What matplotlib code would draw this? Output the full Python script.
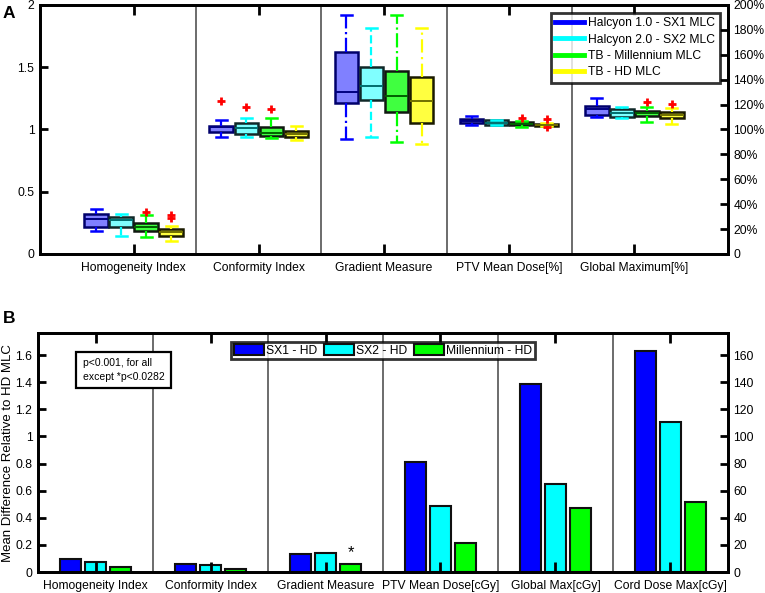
import matplotlib
matplotlib.use("Agg")
import matplotlib.pyplot as plt
from matplotlib.lines import Line2D
from matplotlib.patches import Patch
import numpy as np

plt.rcParams['font.family'] = ['Liberation Sans', 'DejaVu Sans']

# ---------------- Panel A data ----------------
categories_a = ["Homogeneity Index", "Conformity Index", "Gradient Measure",
                "PTV Mean Dose[%]", "Global Maximum[%]"]
series_a = ["Halcyon 1.0 - SX1 MLC", "Halcyon 2.0 - SX2 MLC",
            "TB - Millennium MLC", "TB - HD MLC"]

# per series: values for the 5 categories (PTV / Global as fraction of 100%)
whislo = [
    [0.185, 0.940, 0.921, 1.034, 1.098],
    [0.145, 0.940, 0.940, 1.035, 1.088],
    [0.134, 0.932, 0.900, 1.023, 1.060],
    [0.107, 0.916, 0.886, 1.025, 1.047],
]
q1 = [
    [0.220, 0.983, 1.215, 1.050, 1.120],
    [0.220, 0.966, 1.234, 1.039, 1.103],
    [0.187, 0.950, 1.140, 1.034, 1.106],
    [0.147, 0.940, 1.050, 1.028, 1.090],
]
med = [
    [0.280, 1.017, 1.300, 1.066, 1.165],
    [0.273, 1.010, 1.350, 1.055, 1.133],
    [0.217, 0.974, 1.269, 1.047, 1.130],
    [0.174, 0.964, 1.229, 1.039, 1.116],
]
q3 = [
    [0.319, 1.031, 1.620, 1.082, 1.189],
    [0.300, 1.050, 1.502, 1.074, 1.162],
    [0.246, 1.020, 1.472, 1.060, 1.149],
    [0.203, 0.988, 1.424, 1.047, 1.138],
]
whishi = [
    [0.360, 1.079, 1.917, 1.108, 1.256],
    [0.324, 1.090, 1.815, 1.076, 1.183],
    [0.310, 1.090, 1.917, 1.065, 1.183],
    [0.225, 1.028, 1.815, 1.050, 1.175],
]
fliers = [
    [[], [1.231], [], [], []],
    [[], [1.178], [], [], []],
    [[0.337], [1.167], [], [1.092], [1.218]],
    [[0.313, 0.287], [], [], [1.082, 1.017], [1.205]],
]

line_colors = ['#0000ff', '#00ffff', '#00ff00', '#ffff00']
fill_colors = ['#8080ff', '#80ffff', '#40ff40', '#ffff40']
edge_colors = ['#00006a', '#102828', '#101810', '#1a1a00']
median_colors = ['#000080', '#006e6e', '#006000', '#707000']
whisker_styles = ['-.', '--', '-.', (0, (6, 2, 1, 2))]

# ---------------- Panel B data ----------------
categories_b = ["Homogeneity Index", "Conformity Index", "Gradient Measure",
                "PTV Mean Dose[cGy]", "Global Max[cGy]", "Cord Dose Max[cGy]"]
series_b = ["SX1 - HD", "SX2 - HD", "Millennium - HD"]
# first three on left axis, last three in cGy (right axis)
sx1_hd = [0.095, 0.058, 0.130, 81.0, 139.0, 163.0]
sx2_hd = [0.072, 0.053, 0.137, 48.5, 65.0, 110.5]
mil_hd = [0.035, 0.025, 0.062, 21.5, 47.0, 51.5]
cgy_flags = [False, False, False, True, True, True]
bar_colors = ['#0000ff', '#00ffff', '#00ff00']

FS = 8.7

fig = plt.figure(figsize=(7.65, 5.93), dpi=100)

def style_axes(ax):
    for s in ax.spines.values():
        s.set_linewidth(2)
        s.set_color('black')

# ---------------- Panel A ----------------
axA = fig.add_axes([0.0523, 0.5717, 0.8993, 0.4200])
nA = len(categories_a)
centers_a = np.arange(1, nA + 1)
offsets_a = [-0.3, -0.1, 0.1, 0.3]
for s in range(len(series_a)):
    stats = []
    for c in range(nA):
        stats.append(dict(whislo=whislo[s][c], q1=q1[s][c], med=med[s][c],
                          q3=q3[s][c], whishi=whishi[s][c],
                          fliers=np.array(fliers[s][c])))
    axA.bxp(stats, positions=centers_a + offsets_a[s], widths=0.19,
            capwidths=0.09, patch_artist=True, manage_ticks=False,
            boxprops=dict(facecolor=fill_colors[s], edgecolor=edge_colors[s],
                          linewidth=1.8),
            medianprops=dict(color=median_colors[s], linewidth=1.4),
            whiskerprops=dict(color=line_colors[s], linewidth=1.6,
                              linestyle=whisker_styles[s]),
            capprops=dict(color=line_colors[s], linewidth=1.8),
            flierprops=dict(marker='+', markeredgecolor='red',
                            markersize=6, markeredgewidth=2))
for x in np.arange(1.5, nA, 1.0):
    axA.axvline(x, color='#606060', linewidth=1.3, zorder=0.5)
axA.set_xlim(0.25, 5.75)
axA.set_ylim(0, 2)
axA.set_yticks([0, 0.5, 1, 1.5, 2])
axA.set_yticklabels(["0", "0.5", "1", "1.5", "2"], fontsize=FS)
axA.set_xticks(centers_a)
axA.set_xticklabels(categories_a, fontsize=FS)
axA.tick_params(axis='x', direction='in', top=True, length=7, width=2, pad=6)
axA.tick_params(axis='y', direction='in', length=6, width=2, pad=4)
style_axes(axA)
axA2 = axA.twinx()
axA2.set_ylim(0, 200)
rt = list(range(0, 201, 20))
axA2.set_yticks(rt)
axA2.set_yticklabels(["0"] + [f"{v}%" for v in rt[1:]], fontsize=FS)
axA2.tick_params(axis='y', direction='in', length=6, width=2, pad=4)
style_axes(axA2)
handles = [Line2D([0], [0], color=line_colors[i], linewidth=3.5) for i in range(4)]
legA = axA2.legend(handles, series_a, loc='upper right',
                   bbox_to_anchor=(0.988, 0.968), fontsize=8.75, frameon=True,
                   fancybox=False, edgecolor='black', borderpad=0.35,
                   labelspacing=0.36, handlelength=2.4, handletextpad=0.35,
                   borderaxespad=0)
legA.get_frame().set_linewidth(2)

# ---------------- Panel B ----------------
axB = fig.add_axes([0.0497, 0.0354, 0.9019, 0.4025])
nB = len(categories_b)
centers_b = np.arange(1, nB + 1)
offsets_b = [-0.22, 0.0, 0.22]
for i, vals in enumerate([sx1_hd, sx2_hd, mil_hd]):
    scaled = [v / 100.0 if f else v for v, f in zip(vals, cgy_flags)]
    axB.bar(centers_b + offsets_b[i], scaled, width=0.18, color=bar_colors[i],
            edgecolor='#101010', linewidth=1.5, label=series_b[i])
for x in np.arange(1.5, nB, 1.0):
    axB.axvline(x, color='#606060', linewidth=1.3, zorder=0.5)
axB.set_xlim(0.5, 6.5)
axB.set_ylim(0, 1.76)
lt = [0, 0.2, 0.4, 0.6, 0.8, 1.0, 1.2, 1.4, 1.6]
axB.set_yticks(lt)
axB.set_yticklabels(["0", "0.2", "0.4", "0.6", "0.8", "1", "1.2", "1.4", "1.6"],
                    fontsize=FS)
axB.set_xticks(centers_b)
axB.set_xticklabels(categories_b, fontsize=FS)
axB.tick_params(axis='x', direction='in', top=True, length=7, width=2, pad=6)
axB.tick_params(axis='y', direction='in', length=6, width=2, pad=4)
axB.set_ylabel("Mean Difference Relative to HD MLC", fontsize=9.5)
axB.yaxis.set_label_coords(-0.035, 0.5)
style_axes(axB)
axB2 = axB.twinx()
axB2.set_ylim(0, 176)
axB2.set_yticks(list(range(0, 161, 20)))
axB2.set_yticklabels([str(v) for v in range(0, 161, 20)], fontsize=FS)
axB2.tick_params(axis='y', direction='in', length=6, width=2, pad=4)
style_axes(axB2)
hB = [Patch(facecolor=bar_colors[i], edgecolor='#101010', linewidth=1.5)
      for i in range(3)]
legB = axB2.legend(hB, series_b, loc='upper center', bbox_to_anchor=(0.5, 0.965),
                   ncol=3, fontsize=FS, frameon=True, fancybox=False,
                   edgecolor='black', borderpad=0.2, handlelength=2.5,
                   handleheight=1.0, handletextpad=0.2, columnspacing=0.5,
                   borderaxespad=0)
legB.get_frame().set_linewidth(2)
axB.text(0.0648, 0.8965, "p<0.001, for all\nexcept *p<0.0282", transform=axB.transAxes,
         fontsize=7.5, va='top', ha='left', linespacing=1.5,
         bbox=dict(boxstyle='square,pad=0.6', facecolor='white',
                   edgecolor='black', linewidth=1.6))
axB.text(3.22, 0.085, "*", fontsize=12, ha='center', va='bottom')

fig.text(0.004, 0.99, "A", fontsize=12.5, fontweight='bold', va='top', ha='left')
fig.text(0.004, 0.475, "B", fontsize=12.5, fontweight='bold', va='top', ha='left')

fig.savefig("out.png", dpi=100)
